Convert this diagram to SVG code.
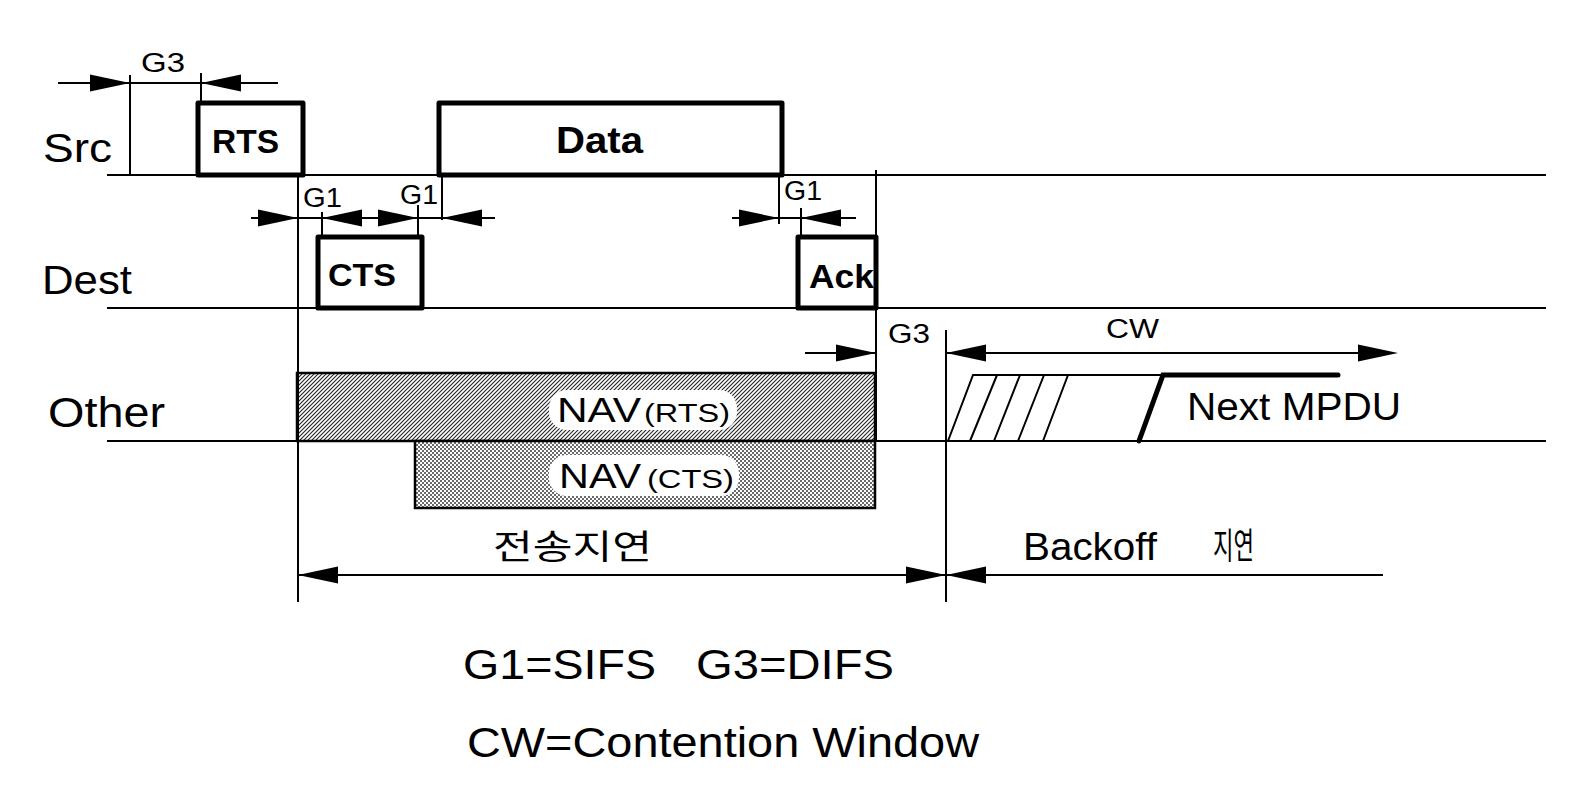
<svg xmlns="http://www.w3.org/2000/svg" xmlns:xlink="http://www.w3.org/1999/xlink" width="1574" height="810" viewBox="0 0 1574 810">
<style>
  text { font-family: "Liberation Sans", Arial, "Noto Sans CJK KR", sans-serif; fill: #000; }
  .b { font-weight: bold; }
  .lane { stroke: #000; stroke-width: 2; fill: none; }
  .box { stroke: #000; stroke-width: 5; fill: #fff; stroke-linejoin: round; }
  .thin { stroke: #000; stroke-width: 2; fill: none; }
  .nav { stroke: #000; stroke-width: 2.5; }
  .lbl { fill: #fff; stroke: none; }
  .ah { fill: #000; stroke: none; }
</style>
<defs>
  <path id="ah" d="M0,0 L-40,-8.5 L-40,8.5 Z"/>
  <pattern id="diag" patternUnits="userSpaceOnUse" width="4" height="4">
    <rect width="4" height="4" fill="#fff"/>
    <path d="M-1,1 L1,-1 M0,4 L4,0 M3,5 L5,3" stroke="#222" stroke-width="1.1"/>
  </pattern>
  <pattern id="dots" patternUnits="userSpaceOnUse" width="4" height="4">
    <rect width="4" height="4" fill="#fff"/>
    <rect x="0" y="0" width="2" height="2" fill="#6a6a6a"/>
    <rect x="2" y="2" width="2" height="2" fill="#6a6a6a"/>
  </pattern>
</defs>
<rect width="1574" height="810" fill="#fff"/>

<g id="lane-src">
  <line class="lane" x1="107" y1="175" x2="1546" y2="175"/>
  <text x="43" y="162" font-size="40" textLength="69" lengthAdjust="spacingAndGlyphs">Src</text>
</g>
<g id="lane-dest">
  <line class="lane" x1="107" y1="308" x2="1546" y2="308"/>
  <text x="42" y="294" font-size="41" textLength="90" lengthAdjust="spacingAndGlyphs">Dest</text>
</g>
<g id="lane-other">
  <line class="lane" x1="107" y1="441" x2="1546" y2="441"/>
  <text x="48" y="427" font-size="42" textLength="117" lengthAdjust="spacingAndGlyphs">Other</text>
</g>

<g id="node-rts">
  <rect class="box" x="198" y="103" width="105" height="72"/>
  <text class="b" x="212" y="153" font-size="33" textLength="67" lengthAdjust="spacingAndGlyphs">RTS</text>
</g>
<g id="node-data">
  <rect class="box" x="439" y="103" width="343" height="72"/>
  <text class="b" x="556" y="153" font-size="37" textLength="87" lengthAdjust="spacingAndGlyphs">Data</text>
</g>
<g id="node-cts">
  <rect class="box" x="318" y="237" width="104" height="71"/>
  <text class="b" x="328" y="286" font-size="32" textLength="68" lengthAdjust="spacingAndGlyphs">CTS</text>
</g>
<g id="node-ack">
  <rect class="box" x="798" y="237" width="78" height="71"/>
  <text class="b" x="809" y="288" font-size="33" textLength="65" lengthAdjust="spacingAndGlyphs">Ack</text>
</g>

<g id="nav-rts">
  <rect class="nav" x="297" y="373" width="578" height="68" fill="url(#diag)"/>
  <rect class="lbl" x="549" y="390" width="188" height="40" rx="18"/>
  <text y="422"><tspan x="557" font-size="35" textLength="84" lengthAdjust="spacingAndGlyphs">NAV</tspan><tspan x="644" font-size="26" textLength="86" lengthAdjust="spacingAndGlyphs">(RTS)</tspan></text>
</g>
<g id="nav-cts">
  <rect class="nav" x="415" y="441" width="460" height="67" fill="url(#dots)"/>
  <rect class="lbl" x="549" y="455" width="190" height="41" rx="18"/>
  <text y="488"><tspan x="559" font-size="35" textLength="82" lengthAdjust="spacingAndGlyphs">NAV</tspan><tspan x="647" font-size="26" textLength="87" lengthAdjust="spacingAndGlyphs">(CTS)</tspan></text>
</g>

<g id="backoff">
  <path class="thin" d="M948,441 L973,375 L1163,375 M970,441 L997,375 M994,441 L1020,375 M1018,441 L1044,375 M1043,441 L1068,375"/>
  <path d="M1139,441 L1163,375 L1338,375" stroke="#000" stroke-width="5" fill="none" stroke-linecap="round"/>
  <text x="1187" y="420" font-size="38" textLength="214" lengthAdjust="spacingAndGlyphs">Next MPDU</text>
</g>

<g id="connectors">
  <!-- G3 before RTS -->
  <line class="thin" x1="58" y1="83" x2="278" y2="83"/>
  <line class="thin" x1="130" y1="75" x2="130" y2="175"/>
  <line class="thin" x1="201" y1="73" x2="201" y2="103"/>
  <use href="#ah" class="ah" transform="translate(130,83)"/>
  <use href="#ah" class="ah" transform="translate(201,83) scale(-1,1)"/>
  <text x="141" y="72" font-size="27" textLength="44" lengthAdjust="spacingAndGlyphs">G3</text>

  <!-- G1 between RTS / CTS / Data -->
  <line class="thin" x1="298" y1="176" x2="298" y2="602"/>
  <line class="thin" x1="251" y1="218" x2="495" y2="218"/>
  <line class="thin" x1="322" y1="212" x2="322" y2="237"/>
  <line class="thin" x1="418" y1="205" x2="418" y2="237"/>
  <line class="thin" x1="442" y1="175" x2="442" y2="220"/>
  <use href="#ah" class="ah" transform="translate(298,218)"/>
  <use href="#ah" class="ah" transform="translate(322,218) scale(-1,1)"/>
  <use href="#ah" class="ah" transform="translate(418,218)"/>
  <use href="#ah" class="ah" transform="translate(442,218) scale(-1,1)"/>
  <text x="303" y="207" font-size="27" textLength="39" lengthAdjust="spacingAndGlyphs">G1</text>
  <text x="400" y="204" font-size="27" textLength="38" lengthAdjust="spacingAndGlyphs">G1</text>

  <!-- G1 before Ack -->
  <line class="thin" x1="732" y1="218" x2="856" y2="218"/>
  <line class="thin" x1="779" y1="175" x2="779" y2="224"/>
  <line class="thin" x1="801" y1="208" x2="801" y2="237"/>
  <use href="#ah" class="ah" transform="translate(779,218)"/>
  <use href="#ah" class="ah" transform="translate(801,218) scale(-1,1)"/>
  <text x="784" y="200" font-size="27" textLength="38" lengthAdjust="spacingAndGlyphs">G1</text>

  <!-- G3 after Ack and CW -->
  <line class="thin" x1="876" y1="170" x2="876" y2="441"/>
  <line class="thin" x1="805" y1="353" x2="876" y2="353"/>
  <use href="#ah" class="ah" transform="translate(876,353)"/>
  <text x="888" y="343" font-size="27" textLength="42" lengthAdjust="spacingAndGlyphs">G3</text>
  <line class="thin" x1="946" y1="330" x2="946" y2="602"/>
  <line class="thin" x1="946" y1="353" x2="1390" y2="353"/>
  <use href="#ah" class="ah" transform="translate(946,353) scale(-1,1)"/>
  <use href="#ah" class="ah" transform="translate(1398,353)"/>
  <text x="1106" y="338" font-size="27" textLength="53" lengthAdjust="spacingAndGlyphs">CW</text>

  <!-- delays -->
  <line class="thin" x1="298" y1="575" x2="1383" y2="575"/>
  <use href="#ah" class="ah" transform="translate(298,575) scale(-1,1)"/>
  <use href="#ah" class="ah" transform="translate(946,575)"/>
  <use href="#ah" class="ah" transform="translate(946,575) scale(-1,1)"/>
  <text x="493" y="559" font-size="34" textLength="159" lengthAdjust="spacingAndGlyphs">전송지연</text>
  <g id="label-backoff">
    <text x="1023" y="560" font-size="38" textLength="134" lengthAdjust="spacingAndGlyphs">Backoff</text>
    <text transform="translate(1213,559) scale(0.62,1)" font-size="36">지연</text>
  </g>
</g>

<g id="legend">
  <text y="679" font-size="42"><tspan x="463" textLength="193" lengthAdjust="spacingAndGlyphs">G1=SIFS</tspan><tspan x="696" textLength="198" lengthAdjust="spacingAndGlyphs">G3=DIFS</tspan></text>
  <text x="467" y="757" font-size="42" textLength="512" lengthAdjust="spacingAndGlyphs">CW=Contention Window</text>
</g>
</svg>
